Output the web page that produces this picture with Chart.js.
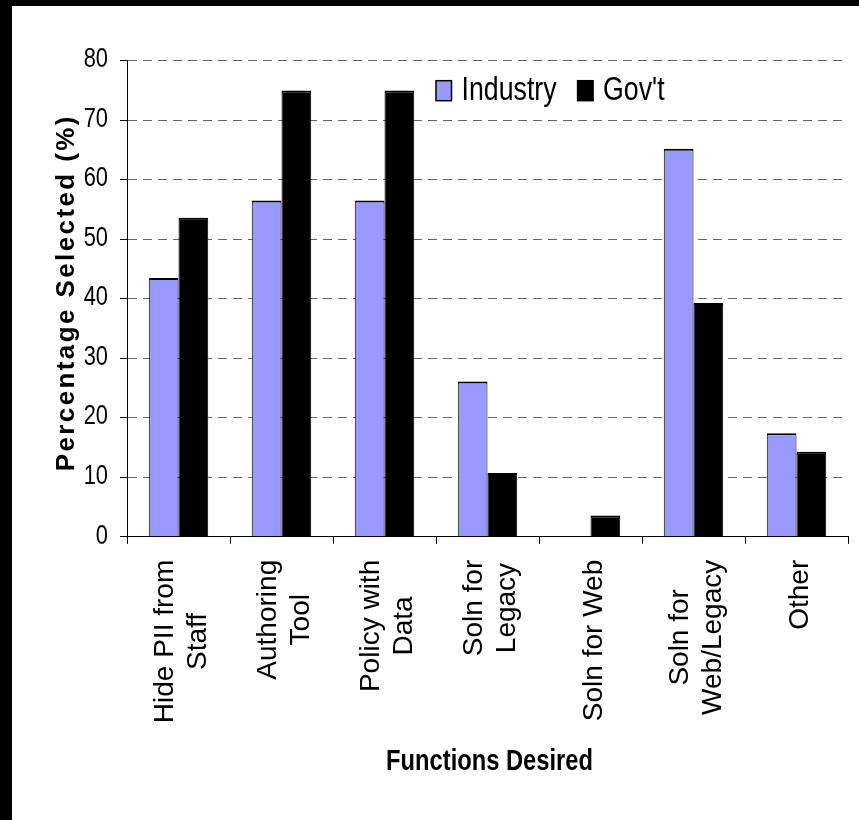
<!DOCTYPE html>
<html>
<head>
<meta charset="utf-8">
<script src="https://cdn.jsdelivr.net/npm/chart.js@4.4.0/dist/chart.umd.min.js"></script>
<style>
  html, body { margin: 0; padding: 0; width: 859px; height: 820px; overflow: hidden; background: #000; }
  #frame { position: absolute; left: 12px; top: 6px; width: 847px; height: 814px; background: #fff; }
  canvas { display: block; }
</style>
</head>
<body>
<div id="frame"><canvas id="chart" width="847" height="814"></canvas></div>
<script>
// Survey results: share of respondents selecting each desired function
const categories = [
  ["Hide PII from", "Staff"],
  ["Authoring", "Tool"],
  ["Policy with", "Data"],
  ["Soln for", "Legacy"],
  ["Soln for Web"],
  ["Soln for", "Web/Legacy"],
  ["Other"]
];
const industryValues = [43.5, 56.5, 56.5, 26.1, 0, 65.2, 17.4];
const govValues      = [53.6, 75.0, 75.0, 10.7, 3.6, 39.3, 14.3];
const seriesNames = ["Industry", "Gov't"];
const yTickValues = [0, 10, 20, 30, 40, 50, 60, 70, 80];
const yTitle = "Percentage Selected (%)";
const xTitle = "Functions Desired";

const SANS = "'Liberation Sans', Arial, sans-serif";
const INDUSTRY_FILL = '#9999FF';
const GOV_FILL = '#000000';

// draw text squeezed horizontally (condensed look) around its anchor point
function narrowText(ctx, text, x, y, sx) {
  ctx.save();
  ctx.translate(x, y);
  ctx.scale(sx, 1);
  ctx.fillText(text, 0, 0);
  ctx.restore();
}

// Tick labels, category labels, axis titles and the in-plot legend
const annotations = {
  id: 'annotations',
  afterDraw(chart) {
    const { ctx, chartArea, scales: { x, y } } = chart;
    ctx.save();
    ctx.fillStyle = '#000';

    // y tick labels, placed by the value scale
    ctx.font = `28px ${SANS}`;
    ctx.textAlign = 'right';
    ctx.textBaseline = 'middle';
    y.ticks.forEach(t => {
      narrowText(ctx, String(t.value), y.right - 7 - 12, y.getPixelForValue(t.value) - 1, 0.78);
    });

    // rotated, centred multi-line category labels
    ctx.font = `28px ${SANS}`;
    const lineGap = 33;
    chart.data.labels.forEach((lines, i) => {
      const cx = x.getPixelForTick(i);
      const maxW = Math.max(...lines.map(t => ctx.measureText(t).width));
      const cy = x.top + 23 + maxW / 2;
      ctx.save();
      ctx.translate(cx, cy);
      ctx.rotate(-Math.PI / 2);
      ctx.textAlign = 'center';
      ctx.textBaseline = 'alphabetic';
      lines.forEach((t, k) => {
        const off = (k - (lines.length - 1) / 2) * lineGap + 11;
        ctx.fillText(t, 0, off);
      });
      ctx.restore();
    });

    // x-axis title
    ctx.font = `bold 30px ${SANS}`;
    ctx.textAlign = 'center';
    ctx.textBaseline = 'alphabetic';
    narrowText(ctx, xTitle, (chartArea.left + chartArea.right) / 2 + 2, 764, 0.79);

    // y-axis title
    ctx.save();
    ctx.font = `bold 26px ${SANS}`;
    ctx.letterSpacing = '2.4px';
    ctx.translate(55, (chartArea.top + chartArea.bottom) / 2 - 6);
    ctx.rotate(-Math.PI / 2);
    ctx.textAlign = 'center';
    ctx.textBaseline = 'middle';
    ctx.fillText(yTitle, 0, 0);
    ctx.restore();

    // legend inside the plot area
    ctx.font = `33px ${SANS}`;
    ctx.textAlign = 'left';
    ctx.textBaseline = 'alphabetic';
    const sx = 0.81;
    let lx = chartArea.left + 309;
    const boxTop = chartArea.top + 20;
    chart.data.datasets.forEach((ds) => {
      ctx.fillStyle = ds.backgroundColor;
      ctx.fillRect(lx, boxTop, 15.5, 20);
      ctx.lineWidth = 1.5;
      ctx.strokeStyle = '#000';
      ctx.strokeRect(lx, boxTop, 15.5, 20);
      ctx.fillStyle = '#000';
      const tx = lx + 15.5 + 10;
      narrowText(ctx, ds.label, tx, boxTop + 19.5, sx);
      lx = tx + ctx.measureText(ds.label).width * sx + 21;
    });
    ctx.restore();
  }
};

new Chart(document.getElementById('chart'), {
  type: 'bar',
  data: {
    labels: categories,
    datasets: [
      {
        label: seriesNames[0],
        data: industryValues,
        backgroundColor: INDUSTRY_FILL,
        borderColor: '#000',
        borderWidth: { top: 2, left: 1, right: 1, bottom: 0 }
      },
      {
        label: seriesNames[1],
        data: govValues,
        backgroundColor: GOV_FILL,
        borderColor: '#000',
        borderWidth: { top: 2, left: 1, right: 1, bottom: 0 }
      }
    ]
  },
  options: {
    responsive: false,
    devicePixelRatio: 1,
    animation: false,
    layout: { padding: { left: 0, right: 11, top: 54.7, bottom: 0 } },
    datasets: { bar: { categoryPercentage: 0.577, barPercentage: 1.0 } },
    plugins: { legend: { display: false }, tooltip: { enabled: false } },
    scales: {
      x: {
        offset: true,
        grid: {
          offset: true,
          drawOnChartArea: false,
          drawTicks: true,
          tickLength: 7,
          tickColor: '#000',
          tickWidth: 1
        },
        border: { display: true, color: '#000', width: 1 },
        ticks: { display: false },
        afterFit(scale) { scale.height = 283.2; }
      },
      y: {
        min: 0,
        max: 80,
        afterBuildTicks(scale) { scale.ticks = yTickValues.map(v => ({ value: v })); },
        ticks: { display: false },
        grid: {
          color: (c) => (c.tick && c.tick.value === 0) ? 'rgba(0,0,0,0)' : '#666',
          lineWidth: 1,
          drawTicks: true,
          tickLength: 7,
          tickColor: '#000',
          tickWidth: 1,
          tickBorderDash: []
        },
        border: { display: true, color: '#000', width: 1, dash: [9, 6] },
        afterFit(scale) { scale.width = 115; }
      }
    }
  },
  plugins: [annotations]
});
</script>
</body>
</html>
